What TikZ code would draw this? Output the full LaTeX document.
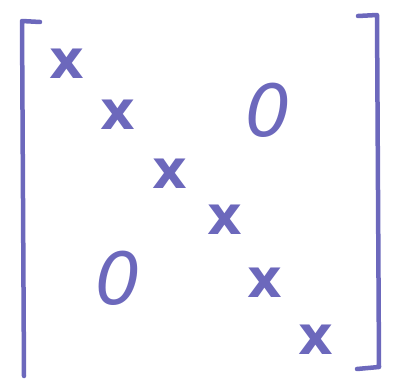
\documentclass[tikz,border=0pt]{standalone}
\usepackage{fontspec}
\setsansfont{DejaVu Sans}
\definecolor{penblue}{RGB}{108,104,188}
\tikzset{entry/.style={text=penblue, font=\sffamily\bfseries\fontsize{54}{54}\selectfont, inner sep=0pt},
  zero/.style={text=penblue, font=\sffamily\slshape\fontsize{72}{72}\selectfont, inner sep=0pt},
  bracket/.style={draw=penblue, line width=4.5pt, line cap=round, line join=round}}
\begin{document}
\begin{tikzpicture}[x=1pt, y=-1pt]
\useasboundingbox (0,0) rectangle (393,390);
% brackets
\draw[bracket] (40,22) -- (22,21) -- (24,376);
\draw[bracket] (358,16) -- (377,15) -- (379,367) -- (357,369);
% diagonal
\node[entry] (d1) at (67,64) {x};
\node[entry] (d2) at (118,115) {x};
\node[entry] (d3) at (170,174) {x};
\node[entry] (d4) at (225,220) {x};
\node[entry] (d5) at (265,283) {x};
\node[entry] (d6) at (316,340) {x};
% off-diagonal zeros
\node[zero] (up) at (268,110) {0};
\node[zero] (lo) at (118,278) {0};
\end{tikzpicture}
\end{document}
